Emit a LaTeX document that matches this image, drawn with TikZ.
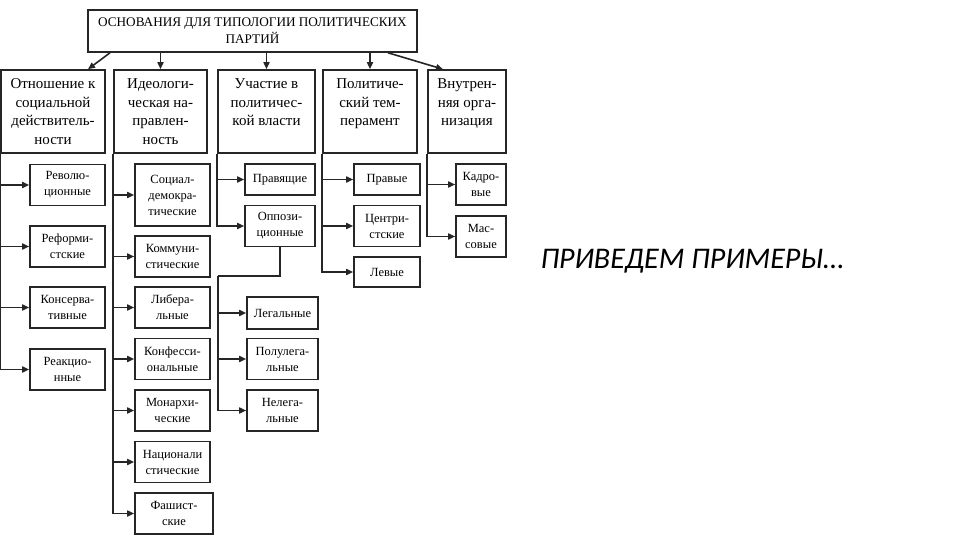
\documentclass[tikz,border=0pt]{standalone}
\usepackage{fontspec}
\setmainfont{Liberation Serif}
\newfontfamily\notefont{Carlito}
\usepackage{tikz}
\usetikzlibrary{arrows.meta}

\begin{document}
\begin{tikzpicture}[x=1pt, y=-1pt,
  ink/.style={draw=black!85, line width=1.6pt},
  head/.style={ink, minimum width=329pt, minimum height=42pt, inner sep=0pt,
    align=center, font=\fontsize{13.2}{17}\selectfont},
  basis/.style={ink, minimum height=83pt, inner sep=0pt,
    align=center, font=\fontsize{15}{18.5}\selectfont},
  kind/.style={ink, minimum height=41pt, inner sep=0pt,
    align=center, font=\fontsize{12.5}{16}\selectfont},
  arr/.style={-{Triangle[length=7pt,width=6pt]}, draw=black!85, line width=1.6pt},
  lbl/.style={font=\notefont\itshape\fontsize{30}{35}\selectfont, anchor=base west}
]
\useasboundingbox (0,0) rectangle (960,540);

% header and the five bases
\node[head] (top) at (252.5,31) {ОСНОВАНИЯ ДЛЯ ТИПОЛОГИИ ПОЛИТИЧЕСКИХ\\ПАРТИЙ};
\node[basis, minimum width=104pt] (b1) at (53,111.5)
  {Отношение к\\социальной\\действитель-\\ности};
\node[basis, minimum width=93pt] (b2) at (160.5,111.5)
  {Идеологи-\\ческая на-\\правлен-\\ность};
\node[basis, minimum width=97pt] (b3) at (266.5,111.5)
  {Участие в\\политичес-\\кой власти\\\phantom{н}};
\node[basis, minimum width=94pt] (b4) at (370,111.5)
  {Политиче-\\ский тем-\\перамент\\\phantom{н}};
\node[basis, minimum width=78pt] (b5) at (467,111.5)
  {Внутрен-\\няя орга-\\низация\\\phantom{н}};

\draw[arr] ([xshift=-142.5pt]top.south) -- ([xshift=35pt]b1.north);
\draw[arr] (top.south -| b2.north) -- (b2.north);
\draw[arr] (top.south -| b3.north) -- (b3.north);
\draw[arr] (top.south -| b4.north) -- (b4.north);
\draw[arr] ([xshift=135.5pt]top.south) -- ([xshift=-24pt]b5.north);

% attitude to social reality
\node[kind, minimum width=75pt] (rev) at (67.5,185)   {Револю-\\ционные};
\node[kind, minimum width=75pt] (ref) at (67.5,246.5) {Реформи-\\стские};
\node[kind, minimum width=75pt] (con) at (67.5,307.5) {Консерва-\\тивные};
\node[kind, minimum width=75pt] (rea) at (67.5,369.5) {Реакцио-\\нные};
\foreach \n in {rev,ref,con,rea}
  \draw[arr] (b1.south west) |- (\n.west);

% ideology
\node[kind, minimum width=75pt, minimum height=62pt] (soc) at (172.5,195)
  {Социал-\\демокра-\\тические};
\node[kind, minimum width=75pt] (com) at (172.5,256.5) {Коммуни-\\стические};
\node[kind, minimum width=75pt] (lib) at (172.5,307.5) {Либера-\\льные};
\node[kind, minimum width=75pt] (rel) at (172.5,359)   {Конфесси-\\ональные};
\node[kind, minimum width=75pt] (mon) at (172.5,410.5) {Монархи-\\ческие};
\node[kind, minimum width=75pt] (nat) at (172.5,462)   {Национали\\стические};
\node[kind, minimum width=78pt] (fas) at (174,513.5)   {Фашист-\\ские};
\foreach \n in {soc,com,lib,rel,mon,nat,fas}
  \draw[arr] (b2.south west) |- (\n.west);

% participation in power
\node[kind, minimum width=70pt, minimum height=31pt] (rul) at (280,179.5) {Правящие};
\node[kind, minimum width=70pt] (opp) at (280,226) {Оппози-\\ционные};
\node[kind, minimum width=71pt, minimum height=32pt] (leg) at (282.5,313) {Легальные};
\node[kind, minimum width=71pt] (semi) at (282.5,359)   {Полулега-\\льные};
\node[kind, minimum width=71pt] (ill)  at (282.5,410.5) {Нелега-\\льные};
\coordinate (oppturn) at (218,276);
\foreach \n in {rul,opp}
  \draw[arr] (b3.south west) |- (\n.west);
\draw[ink] (opp.south) |- (oppturn);
\foreach \n in {leg,semi,ill}
  \draw[arr] (oppturn) |- (\n.west);

% political temperament
\node[kind, minimum width=66pt, minimum height=31pt] (rig) at (387,179.5) {Правые};
\node[kind, minimum width=66pt] (cen) at (387,226) {Центри-\\стские};
\node[kind, minimum width=66pt, minimum height=30pt] (lef) at (387,272) {Левые};
\foreach \n in {rig,cen,lef}
  \draw[arr] (b4.south west) |- (\n.west);

% internal organisation
\node[kind, minimum width=50pt] (cad) at (481,184.5) {Кадро-\\вые};
\node[kind, minimum width=50pt] (mas) at (481,236.5) {Мас-\\совые};
\foreach \n in {cad,mas}
  \draw[arr] (b5.south west) |- (\n.west);

\node[lbl] (note) at (537,268) {ПРИВЕДЕМ ПРИМЕРЫ…};
\end{tikzpicture}
\end{document}
